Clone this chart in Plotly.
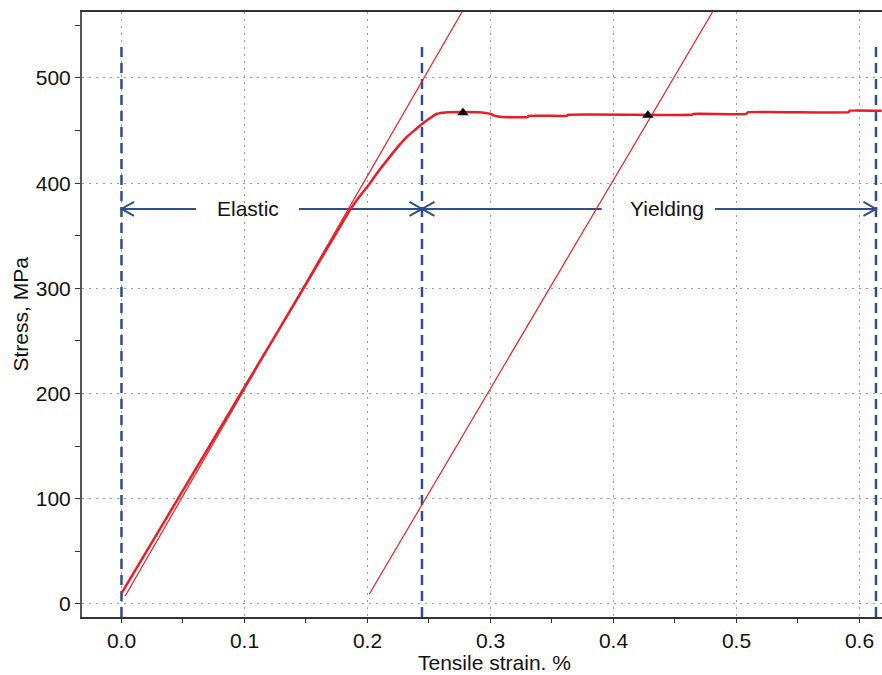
import plotly.graph_objects as go

# ---- data ----
curve_strain = [0.0, 0.05, 0.1, 0.15, 0.186, 0.194, 0.202, 0.210, 0.218, 0.225, 0.232,
                0.239, 0.245, 0.251, 0.2565, 0.261, 0.265,
                0.29, 0.2996, 0.303, 0.31, 0.33, 0.331, 0.362, 0.363, 0.464, 0.465,
                0.508, 0.509, 0.591, 0.592, 0.618]
curve_stress = [10, 108, 206, 304, 375, 388, 400, 413, 425, 435, 444,
                451, 457, 462, 466, 467, 467.5,
                467.5, 466, 464.2, 462.8, 462.8, 464, 464, 465, 465, 465.8,
                465.8, 467.4, 467.4, 468.9, 468.9]

elastic_line_strain = [0.003, 0.2768]
elastic_line_stress = [7.5, 562.7]

offset_line_strain = [0.2015, 0.4805]
offset_line_stress = [9.5, 562.7]

marker_strain = [0.2776, 0.428]
marker_stress = [467, 464.5]

zone_bounds = [0.0, 0.2443, 0.6134]
zone_labels = ["Elastic", "Yielding"]
label_strain = [0.1028, 0.4435]
gap_left = [0.0606, 0.3904]
gap_right = [0.1443, 0.4825]
arrow_stress = 375.5
dash_top = 530

x_range = [-0.0321, 0.6183]
y_range = [-12.4, 562.7]

RED = "#EC1C24"
BLUE = "#2F4E8C"
FONT = "Liberation Sans, Arial, sans-serif"
FS = 21

fig = go.Figure()

# vertical dashed zone boundaries
for xb in zone_bounds:
    fig.add_trace(go.Scatter(x=[xb, xb], y=[y_range[0], dash_top], mode="lines",
                             line=dict(color=BLUE, width=2.5, dash="10px,6px"),
                             showlegend=False, hoverinfo="skip"))

# arrow shafts (split around labels)
for i in range(len(zone_labels)):
    fig.add_trace(go.Scatter(x=[zone_bounds[i], gap_left[i]], y=[arrow_stress, arrow_stress],
                             mode="lines", line=dict(color=BLUE, width=2),
                             showlegend=False, hoverinfo="skip"))
    fig.add_trace(go.Scatter(x=[gap_right[i], zone_bounds[i + 1]], y=[arrow_stress, arrow_stress],
                             mode="lines", line=dict(color=BLUE, width=2),
                             showlegend=False, hoverinfo="skip"))
    fig.add_annotation(x=label_strain[i], y=arrow_stress, text=zone_labels[i], showarrow=False,
                       font=dict(family=FONT, size=FS, color="#111111"),
                       xanchor="center", yanchor="middle")

# chevron arrow heads
hx = 12.5 / 1230.0   # head length in strain units
hy = 7.0 / 1.052     # head half-height in stress units
for i in range(len(zone_labels)):
    a, b = zone_bounds[i], zone_bounds[i + 1]
    for tip, d in ((a, 1), (b, -1)):
        fig.add_shape(type="path",
                      path=f"M {tip + d*hx},{arrow_stress + hy} L {tip},{arrow_stress} L {tip + d*hx},{arrow_stress - hy}",
                      line=dict(color=BLUE, width=2), xref="x", yref="y")

# red lines
fig.add_trace(go.Scatter(x=elastic_line_strain, y=elastic_line_stress, mode="lines",
                         line=dict(color=RED, width=1.2), showlegend=False))
fig.add_trace(go.Scatter(x=offset_line_strain, y=offset_line_stress, mode="lines",
                         line=dict(color=RED, width=1.2), showlegend=False))
fig.add_trace(go.Scatter(x=curve_strain, y=curve_stress, mode="lines",
                         line=dict(color=RED, width=2.5, shape="spline", smoothing=0.3),
                         showlegend=False))
fig.add_trace(go.Scatter(x=marker_strain, y=marker_stress, mode="markers",
                         marker=dict(symbol="triangle-up", size=10, color="black"),
                         showlegend=False))

fig.update_layout(
    width=882, height=675,
    margin=dict(l=82, r=0, t=12, b=58),
    paper_bgcolor="white", plot_bgcolor="white",
    font=dict(family=FONT, size=FS, color="#111111"),
    xaxis=dict(range=x_range, dtick=0.1, tick0=0, tickformat=".1f",
               showgrid=True, gridcolor="#999999", griddash="2px,5px", gridwidth=1,
               showline=True, linecolor="#333333", linewidth=2, mirror=True,
               ticks="outside", ticklen=4, tickcolor="#333333",
               minor=dict(dtick=0.05, tick0=0, ticks="outside", ticklen=4, tickcolor="#333333", showgrid=False),
               zeroline=False),
    yaxis=dict(range=y_range, dtick=100, tick0=0,
               showgrid=True, gridcolor="#999999", griddash="2px,5px", gridwidth=1,
               showline=True, linecolor="#555555", linewidth=2,
               ticks="outside", ticklen=5, tickcolor="#333333",
               minor=dict(dtick=50, tick0=0, ticks="outside", ticklen=5, tickcolor="#333333", showgrid=False),
               zeroline=False),
)

fig.add_annotation(x=0.515, y=-0.0744, xref="paper", yref="paper", text="Tensile strain. %",
                   showarrow=False, font=dict(family=FONT, size=FS, color="#111111"),
                   xanchor="center", yanchor="middle")
fig.add_annotation(x=-0.0775, y=0.5, xref="paper", yref="paper", text="Stress, MPa",
                   showarrow=False, textangle=-90, font=dict(family=FONT, size=FS, color="#111111"),
                   xanchor="center", yanchor="middle")

fig.write_html("out.html", config={"displayModeBar": False},
               post_script="document.body.style.margin='0';document.body.style.overflow='hidden';")
